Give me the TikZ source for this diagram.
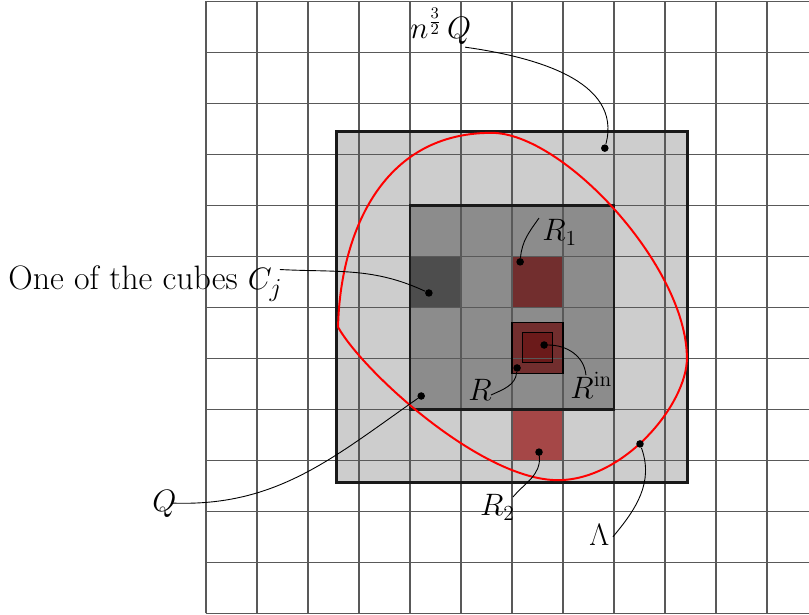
\documentclass[tikz,border=0pt]{standalone}
\usetikzlibrary{calc}
\definecolor{lgray}{HTML}{CDCDCD}
\definecolor{mgray}{HTML}{8C8C8C}
\definecolor{dgray}{HTML}{4D4D4D}
\definecolor{rone}{HTML}{722E2E}
\definecolor{rin}{HTML}{6B1A1A}
\definecolor{rtwo}{HTML}{A54747}
\begin{document}
\begin{tikzpicture}[x=1cm,y=1cm,
  gridline/.style={black!65, line width=0.8pt},
  boxline/.style={black!90, line width=1.6pt},
  rline/.style={black, line width=0.6pt},
  curveline/.style={red, line width=1.1pt},
  conn/.style={black, line width=0.5pt},
  dot/.style={circle, fill=black, inner sep=0pt, minimum size=4.2pt},
  lab/.style={inner sep=0pt, font=\fontsize{17.5}{21}\selectfont}]
\useasboundingbox (-4.039,-0.033) rectangle (11.824,12.025);
\begin{scope}
\clip (-4.039,-0.033) rectangle (11.824,12.025);
% fills
\fill[lgray] (2.56,2.56) rectangle (9.44,9.44);
\fill[mgray] (4,4) rectangle (8,8);
\fill[dgray] (4,6) rectangle (5,7);
\fill[rone] (6,6) rectangle (7,7);
\fill[rone] (6,4.71) rectangle (7,5.71);
\fill[rin] (6.2,4.91) rectangle (6.8,5.51);
\fill[rtwo] (6,3) rectangle (7,4);
% grid
\draw[gridline] (0,0) grid (12,12);
% boxes
\draw[boxline] (2.56,2.56) rectangle (9.44,9.44);
\draw[boxline] (4,4) rectangle (8,8);
\draw[rline] (6,4.71) rectangle (7,5.71);
\draw[rline] (6.2,4.91) rectangle (6.8,5.51);
% Lambda curve
\draw[curveline] (2.59,5.61) .. controls (2.62,7.2) and (3.3,9.42) .. (5.6,9.42)
  .. controls (7.0,9.42) and (9.43,6.8) .. (9.43,5.0)
  .. controls (9.43,4.1) and (8.2,2.61) .. (6.9,2.61)
  .. controls (5.4,2.61) and (3.08,4.74) .. (2.59,5.61) -- cycle;
\end{scope}
% dots
\node[dot] (dnQ) at (7.82,9.12) {};
\node[dot] (dC) at (4.37,6.28) {};
\node[dot] (dR1) at (6.16,6.89) {};
\node[dot] (dR) at (6.10,4.81) {};
\node[dot] (dRin) at (6.63,5.26) {};
\node[dot] (dR2) at (6.53,3.16) {};
\node[dot] (dQ) at (4.22,4.26) {};
\node[dot] (dL) at (8.51,3.32) {};
% labels
\node[lab, anchor=base west] (lnQ) at (4.0,11.27) {$n^{\frac{3}{2}}\,Q$};
\node[lab, anchor=base west, font=\fontsize{18.9}{22}\selectfont] (lC) at (-3.88,6.34) {One of the cubes $C_j$};
\node[lab, anchor=base west] (lR1) at (6.59,7.31) {$R_1$};
\node[lab, anchor=base west] (lR) at (5.14,4.18) {$R$};
\node[lab, anchor=base west] (lRin) at (7.14,4.22) {$R^{\mathrm{in}}$};
\node[lab, anchor=base west] (lR2) at (5.37,1.91) {$R_2$};
\node[lab, anchor=base west] (lQ) at (-1.06,2.0) {$Q$};
\node[lab, anchor=base west] (lL) at (7.51,1.32) {$\Lambda$};
% connector starts
\coordinate (snQ) at (5.08,11.10);
\coordinate (sC) at (1.45,6.74);
\coordinate (sR1) at (6.53,7.75);
\coordinate (sR) at (5.59,4.28);
\coordinate (sRin) at (7.45,4.67);
\coordinate (sR2) at (6.02,2.28);
\coordinate (sQ) at (-0.65,2.16);
\coordinate (sL) at (7.98,1.50);
% connectors
\draw[conn] (snQ) to[out=-8, in=75] (dnQ);
\draw[conn] (sC) to[out=-3, in=155] (dC);
\draw[conn] (sR1) to[out=235, in=85] (dR1);
\draw[conn] (sR) to[out=25, in=265] (dR);
\draw[conn] (sRin) to[out=95, in=0] (dRin);
\draw[conn] (sR2) to[out=50, in=275] (dR2);
\draw[conn] (sQ) to[out=-2, in=215] (dQ);
\draw[conn] (sL) to[out=50, in=290] (dL);
\end{tikzpicture}
\end{document}
